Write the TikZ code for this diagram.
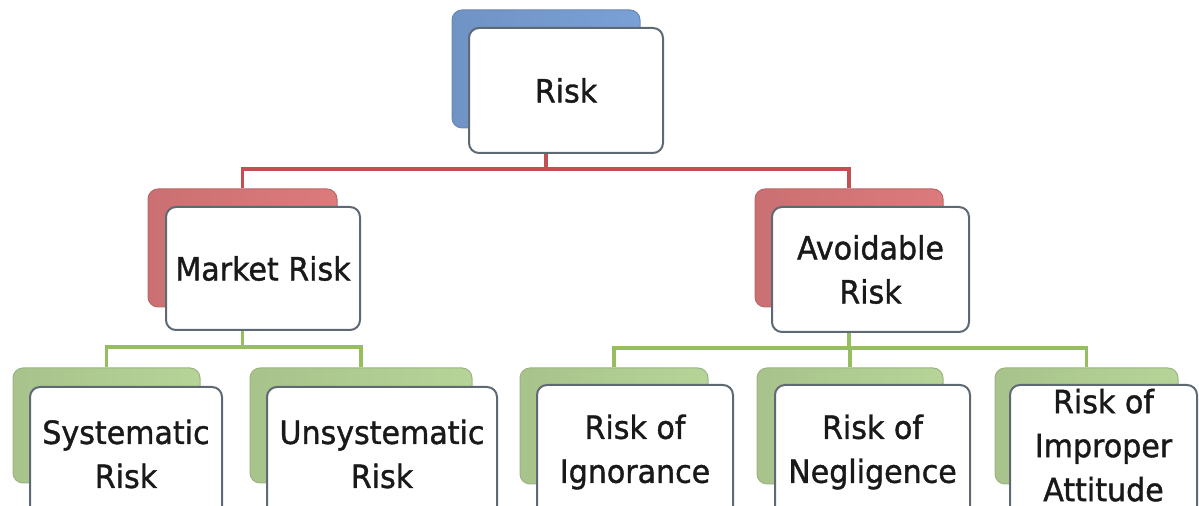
\documentclass[tikz,border=0pt]{standalone}
\usepackage{fontspec}
\setmainfont{DejaVu Sans}[FakeStretch=0.94, FakeBold=1.2]
\definecolor{backblue}{RGB}{122,160,214}
\definecolor{backred}{RGB}{220,122,124}
\definecolor{backgreen}{RGB}{182,212,152}
\definecolor{linkred}{RGB}{192,80,82}
\definecolor{linkgreen}{RGB}{150,190,95}
\definecolor{boxline}{RGB}{95,105,115}
\definecolor{boxtext}{RGB}{25,25,25}
\newcommand\boxfont{\fontsize{16}{22}\selectfont}
\tikzset{
	front/.style={draw=boxline, line width=1pt, fill=white, rounded corners=5pt,
		inner sep=0pt, align=center, text=boxtext, font=\boxfont},
	back/.style={left color=#1!92!black, right color=#1, draw=#1!85!black,
		line width=0.5pt, rounded corners=5pt, inner sep=0pt},
	redlink/.style={draw=linkred, line width=1.6pt},
	greenlink/.style={draw=linkgreen, line width=1.6pt}
}
\begin{document}
\begin{tikzpicture}[x=0.5pt, y=-0.5pt]
		\clip ( 0, 0 ) rectangle ( 1199, 506 );
		\fill [ white ] ( 0, 0 ) rectangle ( 1199, 506 );

		% верхний уровень
		\node [ back=backblue, minimum width=94pt, minimum height=59pt ] (riskback) at ( 546, 69 ) {};
		\node [ front, minimum width=97pt, minimum height=62.5pt ] (risk) at ( 566, 90.5 ) {Risk};

		% средний уровень
		\node [ back=backred, minimum width=94.5pt, minimum height=59pt ] (marketback) at ( 242.5, 248 ) {};
		\node [ front, minimum width=97pt, minimum height=61.5pt ] (market) at ( 263, 268.5 ) {Market Risk};
		\node [ back=backred, minimum width=94pt, minimum height=59pt ] (avoidback) at ( 849, 248 ) {};
		\node [ front, minimum width=98.5pt, minimum height=62.5pt ] (avoid) at ( 870.5, 269.5 ) {Avoidable\\Risk};

		% нижний уровень
		\node [ back=backgreen, minimum width=93.5pt, minimum height=57.5pt ] (sysback) at ( 106.5, 425.5 ) {};
		\node [ front, minimum width=96pt, minimum height=67pt ] (sys) at ( 126, 454 ) {Systematic\\Risk};
		\node [ back=backgreen, minimum width=111pt, minimum height=57.5pt ] (unsysback) at ( 361, 425.5 ) {};
		\node [ front, minimum width=115pt, minimum height=67pt ] (unsys) at ( 382, 454 ) {Unsystematic\\Risk};
		\node [ back=backgreen, minimum width=94pt, minimum height=58pt ] (ignorback) at ( 614, 426 ) {};
		\node [ front, minimum width=98pt, minimum height=67pt ] (ignor) at ( 635, 452 ) {Risk of\\Ignorance};
		\node [ back=backgreen, minimum width=93pt, minimum height=58pt ] (neglback) at ( 850, 426 ) {};
		\node [ front, minimum width=97.5pt, minimum height=67pt ] (negl) at ( 872.5, 452 ) {Risk of\\Negligence};
		\node [ back=backgreen, minimum width=91.5pt, minimum height=58pt ] (impropback) at ( 1086.5, 426 ) {};
		\node [ front, minimum width=93.5pt, minimum height=67pt ] (improp) at ( 1103.5, 452 ) {Risk of\\Improper\\Attitude\rule[-7pt]{0pt}{0pt}};

		% связи
		\coordinate (redbus) at ( 546, 169 );
		\draw [ redlink ] (riskback|-risk.south) -- (redbus) -| (marketback.north);
		\draw [ redlink ] (redbus) -| (avoidback.north);

		\coordinate (marketbus) at ( 242.5, 347 );
		\draw [ greenlink ] (marketback|-market.south) -- (marketbus) -| (sysback.north);
		\draw [ greenlink ] (marketbus) -| (unsysback.north);

		\coordinate (avoidbus) at ( 849, 348 );
		\draw [ greenlink ] (avoidback|-avoid.south) -- (avoidbus) -| (ignorback.north);
		\draw [ greenlink ] (avoidbus) -| (neglback.north);
		\draw [ greenlink ] (avoidbus) -| (impropback.north);
	\end{tikzpicture}
\end{document}
